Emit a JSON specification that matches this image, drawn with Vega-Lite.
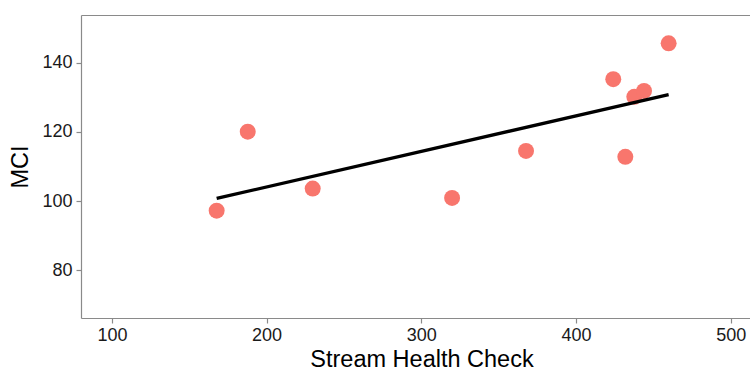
{
  "$schema": "https://vega.github.io/schema/vega-lite/v6.json",
  "width": 669,
  "height": 303,
  "autosize": {"type": "none"},
  "padding": {"left": 81, "top": 15, "right": 0, "bottom": 52},
  "background": "white",
  "config": {
    "view": {"stroke": null},
    "font": "Liberation Sans",
    "axis": {
      "domainColor": "#8a8a8a",
      "domainWidth": 1.2,
      "tickColor": "#8a8a8a",
      "tickSize": 5,
      "tickWidth": 1.2,
      "labelFont": "Liberation Sans",
      "labelFontSize": 18,
      "labelColor": "#1a1a1a",
      "titleFont": "Liberation Sans",
      "titleFontSize": 23.5,
      "titleFontWeight": "normal",
      "titleColor": "#000000",
      "gridColor": "white",
      "gridWidth": 1.2
    }
  },
  "data": {
    "values": [
      {"shc": 167.7, "mci": 97.2},
      {"shc": 187.8, "mci": 120.1},
      {"shc": 229.8, "mci": 103.6},
      {"shc": 319.9, "mci": 100.9},
      {"shc": 367.7, "mci": 114.5},
      {"shc": 424.1, "mci": 135.3},
      {"shc": 431.9, "mci": 112.8},
      {"shc": 437.7, "mci": 130.2},
      {"shc": 444.0, "mci": 131.9},
      {"shc": 459.9, "mci": 145.7}
    ]
  },
  "layer": [
    {
      "mark": {"type": "point", "filled": true, "size": 255, "color": "#F8766D", "opacity": 1},
      "encoding": {
        "x": {
          "field": "shc", "type": "quantitative",
          "scale": {"domain": [80, 512.5], "nice": false, "zero": false},
          "axis": {
            "title": "Stream Health Check",
            "values": [100, 150, 200, 250, 300, 350, 400, 450, 500],
            "labelExpr": "datum.value % 100 == 0 ? datum.label : ''",
            "tickOpacity": {"condition": {"test": "datum.value % 100 != 0", "value": 0}, "value": 1},
            "grid": true,
            "labelPadding": 3,
            "titlePadding": 3,
            "titleX": 340.5
          }
        },
        "y": {
          "field": "mci", "type": "quantitative",
          "scale": {"domain": [66.1, 153.9], "nice": false, "zero": false},
          "axis": {
            "title": "MCI",
            "values": [80, 100, 120, 140],
            "grid": true,
            "labelPadding": 4,
            "titlePadding": 9
          }
        }
      }
    },
    {
      "transform": [{"regression": "mci", "on": "shc"}],
      "mark": {"type": "line", "color": "black", "strokeWidth": 3.3},
      "encoding": {
        "x": {
          "field": "shc", "type": "quantitative",
          "axis": {"orient": "top", "labels": false, "ticks": false, "title": null, "grid": false}
        },
        "y": {"field": "mci", "type": "quantitative"}
      }
    }
  ],
  "resolve": {"axis": {"x": "independent"}}
}
